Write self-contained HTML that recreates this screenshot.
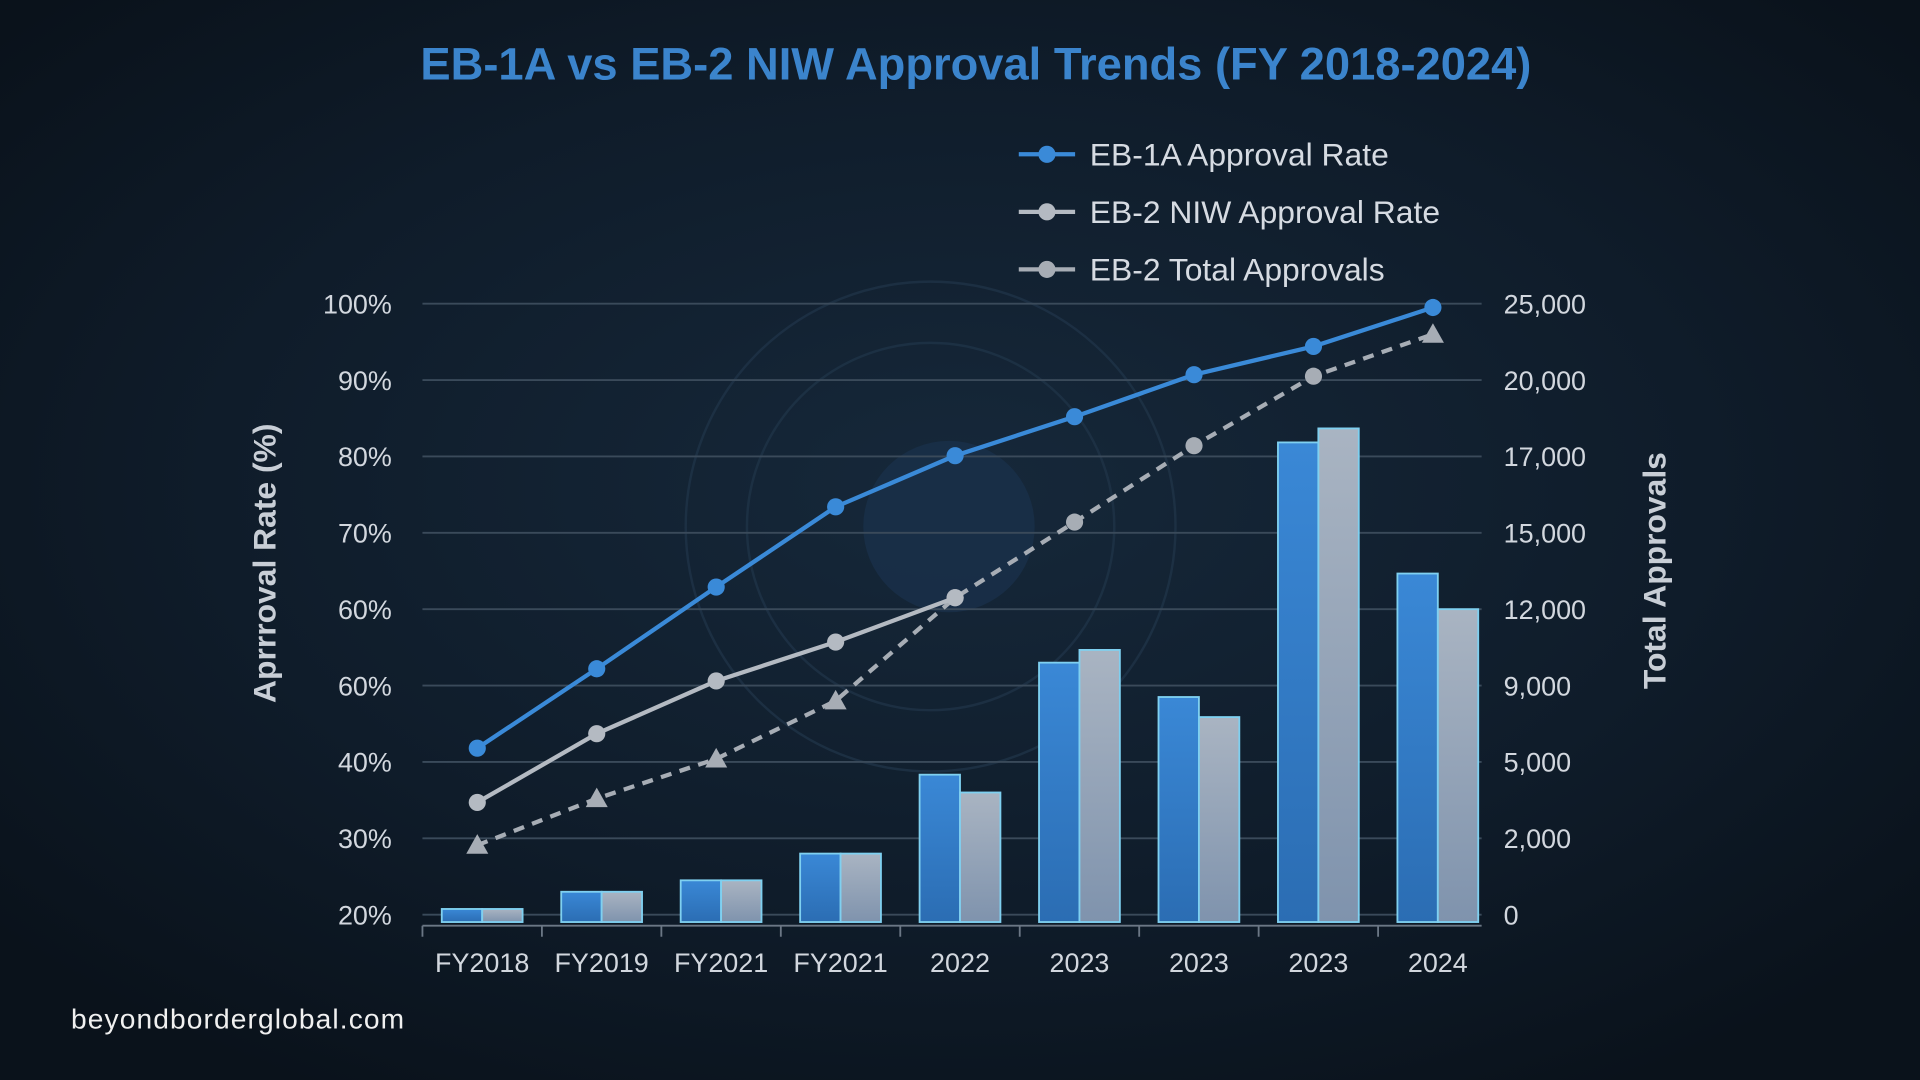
<!DOCTYPE html>
<html><head><meta charset="utf-8">
<style>
html,body{margin:0;padding:0;background:#0d1722;}
svg{display:block;font-family:"Liberation Sans",sans-serif;}
</style></head>
<body>
<svg id="chart" width="1920" height="1080" viewBox="0 0 1568 882" xmlns="http://www.w3.org/2000/svg">
<defs>
<radialGradient id="bg" cx="50%" cy="45%" r="65%">
<stop offset="0" stop-color="#16283a"/><stop offset="0.6" stop-color="#0f1c2a"/><stop offset="1" stop-color="#0a121b"/>
</radialGradient>
<linearGradient id="gBlue" x1="0" y1="0" x2="0" y2="1"><stop offset="0" stop-color="#3a88d6"/><stop offset="1" stop-color="#2b6db3"/></linearGradient>
<linearGradient id="gGray" x1="0" y1="0" x2="0" y2="1"><stop offset="0" stop-color="#a9b4c2"/><stop offset="1" stop-color="#7f93ad"/></linearGradient>
</defs>
<rect width="1568" height="882" fill="url(#bg)"/>
<g fill="none" stroke="#1f3347" stroke-width="2" opacity="0.8">
<circle cx="760" cy="430" r="200"/><circle cx="760" cy="430" r="150"/><circle cx="775" cy="430" r="70" fill="#19304a" stroke="none"/>
</g>
<text x="797" y="65" text-anchor="middle" font-size="37" font-weight="bold" fill="#3b84cc">EB-1A vs EB-2 NIW Approval Trends (FY 2018-2024)</text>
<g id="legend"></g>
<g id="grid"></g><g id="bars"></g><g id="lines"></g><g id="axes"></g>
<text transform="translate(225,460) rotate(-90)" text-anchor="middle" font-size="26" font-weight="bold" fill="#c8ced6">Aprrroval Rate (%)</text>
<text transform="translate(1360,466) rotate(-90)" text-anchor="middle" font-size="26" font-weight="bold" fill="#c8ced6">Total Approvals</text>
<text x="58" y="840" font-size="23" letter-spacing="0.9" fill="#f0f0f0">beyondborderglobal.com</text>
</svg>
<script>
const categories=["FY2018","FY2019","FY2021","FY2021","2022","2023","2023","2023","2024"];
const leftTickLabels=["20%","30%","40%","60%","60%","70%","80%","90%","100%"];
const leftTickValues=[20,30,40,50,60,70,80,90,100];
const rightTickLabels=["0","2,000","5,000","9,000","12,000","15,000","17,000","20,000","25,000"];
const rightTickValues=[0,2000,5000,9000,12000,15000,17000,20000,25000];
const eb1aTotals=[150,600,900,1600,4500,9900,8400,17550,13400];
const eb2Totals=[150,600,900,1600,3800,10400,7350,18100,12000];
const eb1aRate=[41.8,52.2,62.9,73.4,80.1,85.2,90.7,94.4,99.5];
const niwRate=[34.7,43.7,50.6,55.7,61.5];
const eb2TotalTrend=[29.1,35.2,40.4,48,61.5,71.4,81.4,90.5,96];

const NS="http://www.w3.org/2000/svg";
const X0=345,X1=1223,GRIDEND=1210,YTOP=248,YBOT=747,BASE=753;
const band=(X1-X0)/categories.length;
const xc=i=>X0+band*(i+0.5);
const yL=v=>YBOT-(v-20)/80*(YBOT-YTOP);
const gridY=i=>YBOT-i*(YBOT-YTOP)/8;
function yR(v){
  for(let i=0;i<rightTickValues.length-1;i++){
    const a=rightTickValues[i],b=rightTickValues[i+1];
    if(v<=b){return gridY(i)-(v-a)/(b-a)*(gridY(i)-gridY(i+1));}
  }
  return YTOP;
}
function el(tag,attrs,parent,text){const e=document.createElementNS(NS,tag);for(const k in attrs)e.setAttribute(k,attrs[k]);if(text!==undefined)e.textContent=text;parent.appendChild(e);return e;}
const grid=document.getElementById('grid'),bars=document.getElementById('bars'),lines=document.getElementById('lines'),axes=document.getElementById('axes'),legend=document.getElementById('legend');

leftTickLabels.forEach((t,i)=>{
  const y=yL(leftTickValues[i]);
  const g=el('line',{x1:X0,x2:GRIDEND,y1:y,y2:y,stroke:'#3a4a5a','stroke-width':1.5},grid);
  
  
  const l=el('text',{x:320,y:y+8,'text-anchor':'end','font-size':22,fill:'#d2d7de'},axes,t);
  
  
});
rightTickLabels.forEach((t,i)=>{
  const y=yR(rightTickValues[i]);
  const l=el('text',{x:1228,y:y+8,'font-size':22,fill:'#d2d7de'},axes,t);
  
  
});
const xa=el('line',{x1:X0,x2:GRIDEND,y1:BASE+3,y2:BASE+3,stroke:'#6b7785','stroke-width':1.5},axes);


categories.forEach((c,i)=>{
  const tx=Math.min(X0+band*i,GRIDEND);
  const tk=el('line',{x1:tx,x2:tx,y1:BASE+3,y2:BASE+12,stroke:'#6b7785','stroke-width':1.5},axes);
  
  
  const l=el('text',{x:xc(i),y:794,'text-anchor':'middle','font-size':22,fill:'#d2d7de'},axes,c);
  
  
  const bw=33;
  const b1=el('rect',{x:xc(i)-bw,y:yR(eb1aTotals[i]),width:bw,height:BASE-yR(eb1aTotals[i]),fill:'url(#gBlue)',stroke:'#7fd0f0','stroke-width':1.5},bars);
  
  
  const b2=el('rect',{x:xc(i),y:yR(eb2Totals[i]),width:bw,height:BASE-yR(eb2Totals[i]),fill:'url(#gGray)',stroke:'#7fd0f0','stroke-width':1.5},bars);
  
  
});
function series(vals,color,dash,name,marker){
  const pts=vals.map((v,i)=>[xc(i)-4,yL(v)]);
  const p=el('polyline',{points:pts.map(p=>p.join(',')).join(' '),fill:'none',stroke:color,'stroke-width':3.5,'stroke-dasharray':dash||'none'},lines);
  
  
  pts.forEach((q,i)=>{
    let m;
    if(marker(i)==='tri') m=el('polygon',{points:`${q[0]},${q[1]-9} ${q[0]-9},${q[1]+7} ${q[0]+9},${q[1]+7}`,fill:color},lines);
    else m=el('circle',{cx:q[0],cy:q[1],r:7,fill:color},lines);
    
    
  });
}
series(eb2TotalTrend,'#a7adb5','9,7','eb2-total-approvals',i=>(i<4||i===8)?'tri':'circ');
series(niwRate,'#b4bac2',null,'eb2-niw-rate',()=>'circ');
series(eb1aRate,'#3a8ad8',null,'eb1a-rate',()=>'circ');

const legendItems=["EB-1A Approval Rate","EB-2 NIW Approval Rate","EB-2 Total Approvals"];
const legendColors=["#3a8ad8","#b4bac2","#a7adb5"];
legendItems.forEach((t,i)=>{
  const y=126+i*47;
  const ln=el('line',{x1:832,x2:878,y1:y,y2:y,stroke:legendColors[i],'stroke-width':3.5},legend);
  
  
  const c=el('circle',{cx:855,cy:y,r:7,fill:legendColors[i]},legend);
  
  
  const tx=el('text',{x:890,y:y+9,'font-size':26,fill:'#d6dbe2'},legend,t);
  
  
});
</script>
</body></html>
